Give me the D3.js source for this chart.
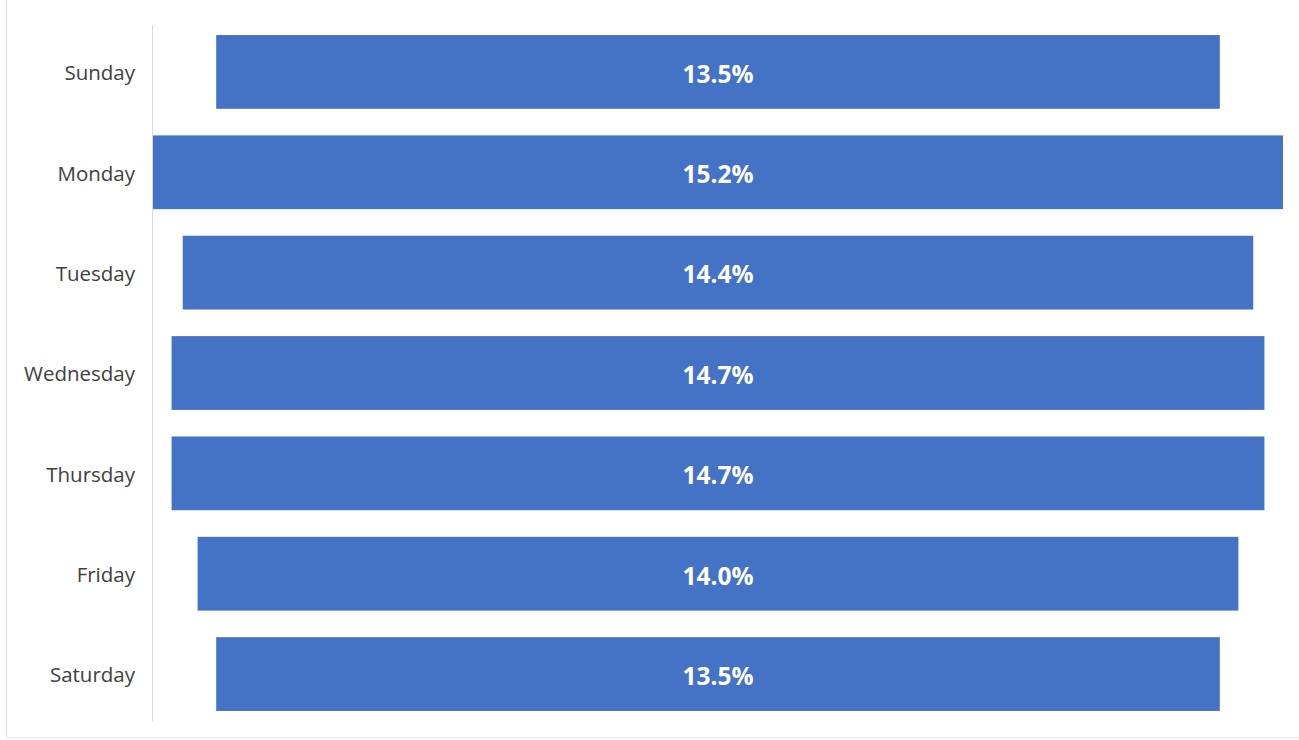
<!DOCTYPE html>
<html><head><meta charset="utf-8">
<script src="https://cdn.jsdelivr.net/npm/d3@7"></script>
<style>body{margin:0;background:#fff;}svg{display:block;}</style>
</head><body><svg id="c" width="1299" height="740"></svg>
<script>
const days = ["Sunday","Monday","Tuesday","Wednesday","Thursday","Friday","Saturday"];
const shares = [13.5, 15.2, 14.4, 14.7, 14.7, 14.0, 13.5];
const labels = ["13.5%","15.2%","14.4%","14.7%","14.7%","14.0%","13.5%"];

const svg = d3.select("#c");
const cx = 718;
const w = d3.scaleLinear().domain([0, 15.2]).range([0, 1130]);
const y = d3.scaleBand().domain(days).range([22, 724]).paddingInner(0.265).paddingOuter(0.13);

// frame
svg.append("line").attr("x1",6.5).attr("x2",6.5).attr("y1",0).attr("y2",737).attr("stroke","#d9d9d9");
svg.append("line").attr("x1",6).attr("x2",1299).attr("y1",737.5).attr("y2",737.5).attr("stroke","#e6e6e6");

// axis line
svg.append("line").attr("x1",152.5).attr("x2",152.5).attr("y1",25).attr("y2",722).attr("stroke","#d9d9d9");

svg.selectAll("rect.bar").data(days).join("rect").attr("class","bar")
  .attr("x",(d,i)=>cx - w(shares[i])/2)
  .attr("width",(d,i)=>w(shares[i]))
  .attr("y",d=>y(d)).attr("height",y.bandwidth())
  .attr("fill","#4472C4");

svg.selectAll("text.val").data(days).join("text").attr("class","val")
  .attr("x",cx).attr("y",d=>y(d)+y.bandwidth()/2 + 2)
  .attr("dy","0.36em").attr("text-anchor","middle")
  .attr("font-family","'Open Sans', sans-serif").attr("font-weight","bold").attr("font-size",24.5)
  .attr("fill","#fff").text((d,i)=>labels[i]);

svg.selectAll("text.cat").data(days).join("text").attr("class","cat")
  .attr("x",135).attr("y",d=>y(d)+y.bandwidth()/2 + 1)
  .attr("dy","0.36em").attr("text-anchor","end")
  .attr("font-family","'Open Sans', sans-serif").attr("font-size",20.5)
  .attr("fill","#404040").text(d=>d);
</script></body></html>
